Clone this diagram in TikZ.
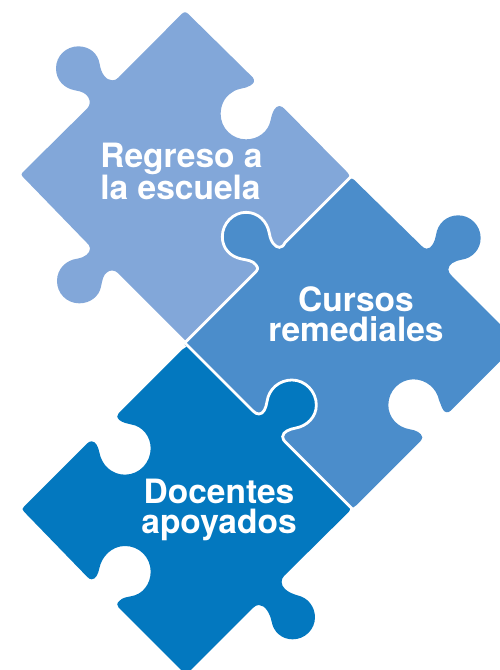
\documentclass[tikz,border=0pt]{standalone}
\usepackage{fontspec}
\setmainfont{TeX Gyre Heros}
\definecolor{pieceA}{HTML}{82A7D9}
\definecolor{pieceB}{HTML}{4B8DCB}
\definecolor{pieceC}{HTML}{0378BF}
\def\ifaceB{(30,503) -- (225,308) .. controls (233,300) and (236,295) .. (228,285)
 .. controls (220,272) and (200,270) .. (185,267)
 .. controls (150,260) and (127,235) .. (127,200)
 .. controls (127,160) and (160,127) .. (198,127)
 .. controls (235,127) and (262,155) .. (268,190)
 .. controls (272,215) and (285,232) .. (298,232)
 .. controls (305,232) and (310,228) .. (315,218) -- (505,28)}
\def\ifaceC{(538,22) -- (728,212) .. controls (735,219) and (740,222) .. (747,222)
 .. controls (760,222) and (768,205) .. (771,185)
 .. controls (776,147) and (808,120) .. (846,120)
 .. controls (886,120) and (919,155) .. (919,195)
 .. controls (919,232) and (890,258) .. (858,264)
 .. controls (840,267) and (818,275) .. (818,290)
 .. controls (818,297) and (822,302) .. (826,306) -- (1012,492)}
\tikzset{
  seam/.style={draw=white,line width=2.8pt},
  lbl/.style={text=white,inner sep=0pt,font=\bfseries\fontsize{33.5}{29.5}\selectfont}
}
\begin{document}
\begin{tikzpicture}[x=1pt,y=-1pt]
\useasboundingbox (0,0) rectangle (500,670);
\clip (0,0) rectangle (500,670);
\begin{scope}[x=0.33333pt,y=-0.33333pt]
\fill[pieceA] (545,42) .. controls (552,35) and (558,35) .. (565,42)
 -- (758,232) .. controls (766,242) and (762,250) .. (752,256)
 .. controls (735,268) and (715,262) .. (695,278)
 .. controls (672,292) and (662,318) .. (662,342)
 .. controls (662,385) and (697,418) .. (738,418)
 .. controls (775,418) and (805,395) .. (812,360)
 .. controls (817,335) and (826,318) .. (838,318)
 .. controls (845,318) and (850,323) .. (855,328)
 -- (1040,515) .. controls (1048,523) and (1050,530) .. (1046,540)
 -- (565,1021) .. controls (558,1026) and (552,1017) .. (545,1010)
 -- (355,820) .. controls (345,810) and (330,808) .. (320,818)
 .. controls (310,825) and (307,840) .. (303,860)
 .. controls (297,890) and (270,910) .. (238,910)
 .. controls (200,910) and (171,880) .. (171,843)
 .. controls (171,805) and (200,780) .. (232,776)
 .. controls (255,772) and (270,760) .. (270,745)
 .. controls (270,738) and (265,733) .. (260,728)
 -- (70,532) .. controls (63,525) and (63,522) .. (70,515)
 -- (262,325) .. controls (270,315) and (272,305) .. (265,292)
 .. controls (258,280) and (245,274) .. (225,271)
 .. controls (192,265) and (168,240) .. (168,205)
 .. controls (168,168) and (198,139) .. (235,139)
 .. controls (268,139) and (294,160) .. (299,192)
 .. controls (303,220) and (318,241) .. (337,241)
 .. controls (345,241) and (350,238) .. (356,232) -- cycle;
\end{scope}
\begin{scope}[x=0.33333pt,y=-0.33333pt,shift={(540,510)}]
\fill[pieceB] \ifaceB .. controls (510,23) and (520,25) .. (528,35)
 -- (722,225) .. controls (730,233) and (735,236) .. (740,236)
 .. controls (755,236) and (765,215) .. (768,195)
 .. controls (773,160) and (800,136) .. (835,136)
 .. controls (872,136) and (902,167) .. (902,204)
 .. controls (902,240) and (875,265) .. (845,269)
 .. controls (825,272) and (805,283) .. (805,298)
 .. controls (805,306) and (810,312) .. (815,317)
 -- (1016,518) -- (812,722)
 .. controls (805,729) and (793,730) .. (787,715)
 .. controls (782,705) and (780,695) .. (777,690)
 .. controls (770,655) and (738,628) .. (700,628)
 .. controls (660,628) and (625,662) .. (625,705)
 .. controls (625,742) and (652,772) .. (690,778)
 .. controls (705,780) and (725,788) .. (727,802)
 .. controls (727,808) and (722,813) .. (718,817)
 -- (530,1005) .. controls (522,1012) and (516,1016) .. (505,1015)
 -- (14,524) -- cycle;
\draw[seam] (14,519) -- \ifaceB -- (518,15);
\end{scope}
\begin{scope}[x=0.33333pt,y=-0.33333pt,shift={(30,1020)}]
\fill[pieceC] \ifaceC .. controls (1022,502) and (1024,510) .. (1012,520)
 -- (822,708) .. controls (812,718) and (812,735) .. (825,747)
 .. controls (835,757) and (850,762) .. (862,766)
 .. controls (893,772) and (915,800) .. (915,832)
 .. controls (915,868) and (885,898) .. (848,898)
 .. controls (815,898) and (790,875) .. (785,845)
 .. controls (780,820) and (765,795) .. (747,795)
 .. controls (740,795) and (735,798) .. (730,803)
 -- (538,995) .. controls (530,1005) and (526,1005) .. (518,995)
 -- (326,803) .. controls (320,796) and (320,790) .. (328,783)
 .. controls (338,772) and (350,772) .. (362,769)
 .. controls (398,764) and (422,732) .. (422,695)
 .. controls (422,652) and (388,618) .. (345,618)
 .. controls (305,618) and (275,650) .. (268,685)
 .. controls (265,700) and (258,718) .. (245,718)
 .. controls (240,718) and (236,715) .. (232,711)
 -- (42,515) .. controls (36,509) and (36,505) .. (42,500)
 -- (232,310) .. controls (236,306) and (240,304) .. (245,304)
 .. controls (258,304) and (265,322) .. (268,337)
 .. controls (275,375) and (305,404) .. (345,404)
 .. controls (388,404) and (422,368) .. (422,325)
 .. controls (422,290) and (398,258) .. (362,253)
 .. controls (350,250) and (338,248) .. (328,240)
 .. controls (320,232) and (320,226) .. (326,220)
 -- (518,28) .. controls (523,23) and (532,18) .. cycle;
\draw[seam] (525,9) -- \ifaceC -- (1026,506);
\end{scope}
\node[lbl,align=left] (regreso) at (181.5,171.3) {Regreso a\\la escuela};
\node[lbl,align=center] (cursos) at (356,314.3) {Cursos\\remediales};
\node[lbl,align=center] (docentes) at (219,510) {Docentes\\apoyados};
\end{tikzpicture}
\end{document}
